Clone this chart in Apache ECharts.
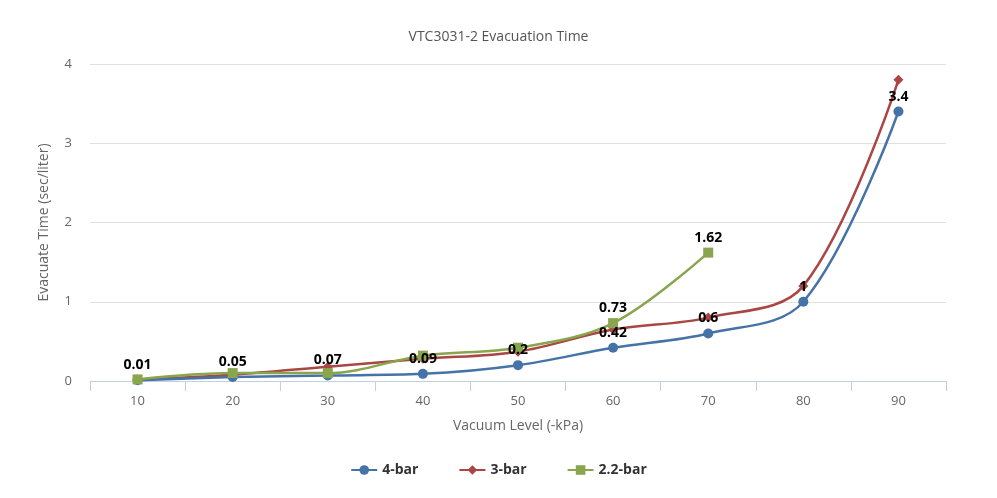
<!DOCTYPE html>
<html><head><meta charset="utf-8">
<script src="https://cdn.jsdelivr.net/npm/echarts@6/dist/echarts.min.js"></script>
<style>html,body{margin:0;padding:0;background:#fff}#c{width:997px;height:498px}</style>
</head><body><div id="c"></div>
<script>
var categories = ['10','20','30','40','50','60','70','80','90'];
var bar4 = [0.01,0.05,0.07,0.09,0.2,0.42,0.6,1,3.4];
var bar3 = [0.02,0.08,0.18,0.28,0.37,0.65,0.8,1.2,3.8];
var bar22 = [0.02,0.1,0.1,0.32,0.42,0.73,1.62];
var bar22Labelled = [5,6];
var yTicks = [0,1,2,3,4];

var FONT = 'Open Sans';
var labelStyle = {show:true, position:'top', distance:3, color:'#000', opacity:1, fontWeight:'bold', fontSize:14, fontFamily:FONT};
var clear = 'rgba(0,0,0,0)';
var chart = echarts.init(document.getElementById('c'));
chart.setOption({
  animation:false,
  title:{text:'VTC3031-2 Evacuation Time', left:'center', top:25, textStyle:{color:'#555', fontSize:14, fontWeight:'normal', fontFamily:FONT}},
  grid:{left:90, right:51, top:64, bottom:117},
  legend:{bottom:16, left:'center', itemGap:40, itemWidth:26, itemHeight:12,
    data:['4-bar','3-bar','2.2-bar'],
    textStyle:{color:'#333', fontWeight:'bold', fontSize:14, fontFamily:FONT}},
  xAxis:{type:'category', data:categories, boundaryGap:true,
    name:'Vacuum Level (-kPa)', nameLocation:'middle', nameGap:38, nameTextStyle:{color:'#666', fontSize:14, fontFamily:FONT},
    axisLine:{lineStyle:{color:'#C0D0E0'}}, axisTick:{show:true, length:10, lineStyle:{color:'#C0D0E0'}},
    axisLabel:{color:'#666', fontSize:13, margin:14, fontFamily:FONT}},
  yAxis:{type:'value', min:yTicks[0], max:yTicks[yTicks.length-1], interval:1,
    name:'Evacuate Time (sec/liter)', nameLocation:'middle', nameGap:39, nameTextStyle:{color:'#666', fontSize:14, fontFamily:FONT},
    axisLine:{show:false}, axisTick:{show:false},
    axisLabel:{color:'#666', fontSize:13, margin:18, fontFamily:FONT},
    splitLine:{lineStyle:{color:'#E0E0E0'}}},
  series:[
    {name:'4-bar', type:'line', data:bar4, smooth:0.35, symbol:'circle', symbolSize:10,
      itemStyle:{color:'#4572A7'}, lineStyle:{width:2.5}, z:3},
    {name:'3-bar', type:'line', data:bar3, smooth:0.35, symbol:'diamond', symbolSize:10,
      itemStyle:{color:'#AA4643'}, lineStyle:{width:2.5}, z:2},
    {name:'2.2-bar', type:'line', smooth:0.35, symbol:'rect', symbolSize:10,
      data:bar22,
      itemStyle:{color:'#89A54E'}, lineStyle:{width:2.5}, z:4},
    {name:'4-bar labels', type:'line', data:bar4, symbol:'circle', symbolSize:10, silent:true,
      itemStyle:{color:clear}, lineStyle:{color:clear}, label:labelStyle, z:10},
    {name:'2.2-bar labels', type:'line', symbol:'rect', symbolSize:10, silent:true,
      data:bar22.map(function(v,i){return bar22Labelled.indexOf(i)>=0?{value:v,label:labelStyle}:v;}),
      itemStyle:{color:clear}, lineStyle:{color:clear}, z:10}
  ]
});
</script></body></html>
